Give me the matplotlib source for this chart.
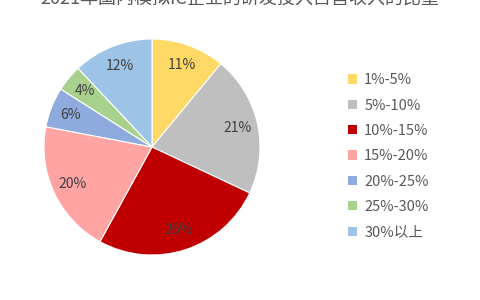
import matplotlib
matplotlib.use('Agg')
import matplotlib.pyplot as plt
from matplotlib.patches import Patch

plt.rcParams['font.family'] = ['Noto Sans CJK SC', 'DejaVu Sans']

# share of companies by R&D-to-revenue ratio band
categories = ['1%-5%', '5%-10%', '10%-15%', '15%-20%', '20%-25%', '25%-30%', '30%以上']
shares = [11, 21, 26, 20, 6, 4, 12]
colors = ['#FFD966', '#BFBFBF', '#C00000', '#FFA3A3', '#8FAADC', '#A9D18E', '#9DC3E6']
title = '2021年国内模拟IC企业的研发投入占营收入的比重'

fig = plt.figure(figsize=(4.8, 3.0), dpi=100)
ax = fig.add_axes([44 / 480, 45 / 300, 216 / 480, 216 / 300])

wedges, texts, autotexts = ax.pie(
    shares, colors=colors, startangle=90, counterclock=False,
    autopct='%.0f%%', pctdistance=0.81,
    wedgeprops=dict(edgecolor='white', linewidth=0.8),
    textprops=dict(color='#404040', fontsize=10),
)
ax.set_xlim(-1, 1)
ax.set_ylim(-1, 1)
ax.set_aspect('equal')

# title sits half outside the top edge, as in the source image
fig.text(0.5, 1.0, title, ha='center', va='center', fontsize=13, color='#595959')

handles = [Patch(facecolor=c, edgecolor='none') for c in colors]
fig.legend(handles, categories, loc='upper left', bbox_to_anchor=(335 / 480, 1 - 60 / 300),
           frameon=False, fontsize=10.5, labelcolor='#595959', handlelength=0.6, handleheight=0.6,
           handletextpad=0.5, labelspacing=0.78)

fig.savefig('out.png', dpi=100)
